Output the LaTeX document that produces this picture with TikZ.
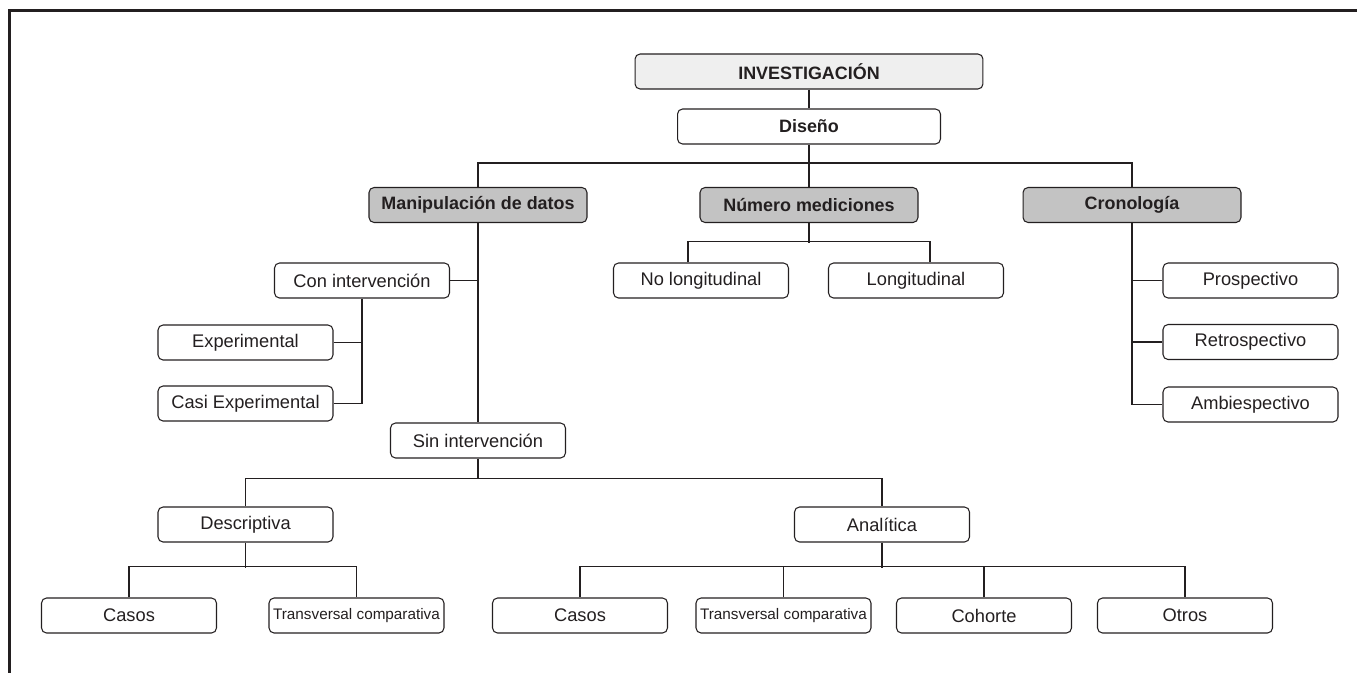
\documentclass[tikz,border=0pt]{standalone}
\usepackage{fontspec}
\setmainfont{Liberation Sans}
\definecolor{tinta}{HTML}{231F20}
\definecolor{grisclaro}{HTML}{EFEFEF}
\definecolor{gris}{HTML}{C3C3C3}

\begin{document}
\begin{tikzpicture}[x=0.02cm, y=-0.02cm]
    \tikzstyle{caja}=[draw=tinta, text=tinta, rounded corners=0.1cm, line width=0.6pt, minimum width=3.5cm, minimum height=0.7cm, inner sep=1pt, font=\fontsize{10.4}{12}\selectfont]
    \tikzstyle{raiz}=[caja, fill=grisclaro, font=\fontsize{10.2}{12}\selectfont\bfseries]
    \tikzstyle{cat}=[caja, fill=gris, minimum width=4.36cm, font=\fontsize{10.2}{12}\selectfont\bfseries]
    \tikzstyle{chica}=[caja, font=\fontsize{8.7}{10}\selectfont]
    \tikzstyle{e}=[draw=tinta, line width=0.7pt]

    \useasboundingbox (0,0) rectangle (1357,673);
    \draw[tinta, line width=1.7pt] (9.5,673) -- (9.5,10.5) -- (1357,10.5);

    \node[raiz, minimum width=6.96cm] (inv) at (809,71.5) {INVESTIGACIÓN};
    \node[caja, minimum width=5.26cm, font=\fontsize{10.2}{12}\selectfont\bfseries] (dis) at (809,126.5) {Diseño};

    \node[cat] (man) at (478,205) {Manipulación de datos};
    \node[cat] (num) at (809,205) {Número mediciones};
    \node[cat] (cro) at (1132,205) {Cronología};

    \node[caja] (con) at (362,280.5) {Con intervención};
    \node[caja] (exp) at (245.5,342.5) {Experimental};
    \node[caja] (cex) at (245.5,403.5) {Casi Experimental};
    \node[caja] (sin) at (478,440.5) {Sin intervención};

    \node[caja] (nlo) at (701,280.5) {No longitudinal};
    \node[caja] (lon) at (916,280.5) {Longitudinal};

    \node[caja] (pro) at (1250.5,280.5) {Prospectivo};
    \node[caja] (ret) at (1250.5,342) {Retrospectivo};
    \node[caja] (amb) at (1250.5,404.5) {Ambiespectivo};

    \node[caja] (des) at (245.5,524.5) {Descriptiva};
    \node[caja] (ana) at (882,524.5) {Analítica};

    \node[caja] (cas1) at (129,615.5) {Casos};
    \node[chica] (tc1) at (356.5,615.5) {Transversal comparativa};
    \node[caja] (cas2) at (580,615.5) {Casos};
    \node[chica] (tc2) at (783.5,615.5) {Transversal comparativa};
    \node[caja] (coh) at (984,615.5) {Cohorte};
    \node[caja] (otr) at (1185,615.5) {Otros};

    \draw[e] (inv) -- (dis);
    \draw[e] (dis) -- (num);
    \draw[e] (man.north) -- ++(0,-24) -| (cro.north);

    \draw[e] (man) -- (sin);
    \draw[e] (con.east) -- (con.east -| man.south);
    \draw[e] (con.south) |- (cex.east);
    \draw[e] (exp.east) -- (exp.east -| con.south);

    \draw[e] (num.south) -- ++(0,19.5);
    \draw[e] ([xshift=-0.26cm]nlo.north) -- ++(0,-21) -| ([xshift=0.28cm]lon.north);

    \draw[e] (cro.south) |- (amb.west);
    \draw[e] (cro.south |- pro.west) -- (pro.west);
    \draw[e] (cro.south |- ret.west) -- (ret.west);

    \draw[e] (sin.south) -- ++(0,20.5);
    \draw[e] (des.north) -- ++(0,-28) -| (ana.north);

    \draw[e] (des.south) -- ++(0,25);
    \draw[e] (cas1.north) -- ++(0,-31) -| (tc1.north);
    \draw[e] (ana.south) -- ++(0,25);
    \draw[e] (cas2.north) -- ++(0,-31) -| (otr.north);
    \draw[e] (tc2.north) -- ++(0,-31);
    \draw[e] (coh.north) -- ++(0,-31);
\end{tikzpicture}
\end{document}
